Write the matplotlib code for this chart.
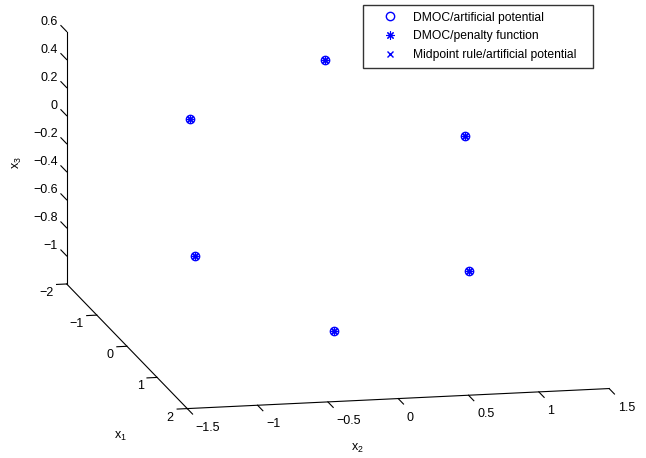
import numpy as np
import matplotlib
matplotlib.use('Agg')
import matplotlib.pyplot as plt
from matplotlib.transforms import ScaledTranslation

plt.rcParams['font.family'] = ['Liberation Sans', 'DejaVu Sans']
plt.rcParams['mathtext.fontset'] = 'custom'
plt.rcParams['mathtext.rm'] = 'Liberation Sans'
plt.rcParams['mathtext.it'] = 'Liberation Sans'

# final positions of the six agents
x1 = [-1.0, -0.5, -0.5, 0.5, 0.5, 1.0]
x2 = [0.12, -0.946, 1.014, -1.12, 0.824, -0.24]
x3 = [0.543, 0.28, 0.066, -0.464, -0.66, -0.927]

labels = ['DMOC/artificial potential', 'DMOC/penalty function',
          'Midpoint rule/artificial potential']

x1_ticks = [-2, -1, 0, 1, 2]
x2_ticks = [-1.5, -1, -0.5, 0, 0.5, 1, 1.5]
x3_ticks = [-1, -0.8, -0.6, -0.4, -0.2, 0, 0.2, 0.4, 0.6]

fmt = lambda t: ('%g' % t).replace('-', '\u2212')

fig = plt.figure(figsize=(6.46, 4.58), dpi=100)
ax = fig.add_axes([0.0135, 0.0279, 1, 1], projection='3d', proj_type='ortho')
ax.view_init(elev=12.8, azim=-12.1)
ax.set_box_aspect((4, 3, 1.8), zoom=1.62)

h1, = ax.plot(x1, x2, x3, 'o', mfc='none', mec='b', ms=6, mew=1)
h2, = ax.plot(x1, x2, x3, marker=(8, 2, 0), ls='none', color='b', ms=6, mew=0.8)
h3, = ax.plot(x1, x2, x3, 'x', color='b', ms=5, mew=1)

ax.set_xlim(-2, 2)
ax.set_ylim(-1.5, 1.5)
ax.set_zlim(-1.2, 0.6)
ax.set_xticks(x1_ticks)
ax.set_yticks(x2_ticks)
ax.set_zticks(x3_ticks)
ax.set_xticklabels([fmt(t) for t in x1_ticks])
ax.set_yticklabels([fmt(t) for t in x2_ticks])
ax.set_zticklabels([fmt(t) for t in x3_ticks])

ax.grid(False)
for axis in (ax.xaxis, ax.yaxis, ax.zaxis):
    axis.set_pane_color((1, 1, 1, 0))
    axis.pane.set_edgecolor((1, 1, 1, 0))
    axis.line.set_color('k')
    axis.line.set_linewidth(0.8)
    axis.set_tick_params(labelsize=9, colors='k', width=0.6, pad=-8)

# matlab-like tick directions
ax.xaxis._axinfo['tick']['inward_factor'] = 0.3
ax.xaxis._axinfo['tick']['outward_factor'] = 0.0
ax.yaxis._axinfo['tick']['inward_factor'] = 0.55
ax.yaxis._axinfo['tick']['outward_factor'] = 0.0
ax.zaxis._axinfo['tick']['inward_factor'] = 0.0
ax.zaxis._axinfo['tick']['outward_factor'] = 0.6
ax.zaxis.set_ticks_position('lower')
ax.zaxis._get_tickdir = lambda position: 0


def place_labels(axis, ha, dx, dy):
    # axis3d resets the label transform on every draw, so hook in after it
    off = ScaledTranslation(dx / 100, dy / 100, fig.dpi_scale_trans)
    orig = axis.get_major_ticks

    def get_major_ticks(numticks=None):
        ticks = orig(numticks)
        for t in ticks:
            t.label1.set_ha(ha)
            t.label1.set_va('center')
            t.label1.set_transform(ax.transData + off)
        return ticks
    axis.get_major_ticks = get_major_ticks


place_labels(ax.xaxis, 'right', -13.5, -9)
place_labels(ax.yaxis, 'left', 8.5, -19)
place_labels(ax.zaxis, 'right', -9, 9.5)

fig.text(0.186, 0.046, 'x$_1$', fontsize=9, ha='center', va='center')
fig.text(0.554, 0.020, 'x$_2$', fontsize=9, ha='center', va='center')
fig.text(0.027, 0.646, 'x$_3$', fontsize=9, ha='center', va='center', rotation=90)

fig.legend([h1, h2, h3], labels, loc='upper left',
           bbox_to_anchor=(363 / 646, 1 - 68 / 458, 230 / 646, 63 / 458), mode='expand',
           borderaxespad=0, fontsize=8.7, frameon=True, fancybox=False, edgecolor='k',
           handlelength=3.4, handletextpad=0.2, borderpad=0.55, labelspacing=0.55)

fig.savefig('out.png', dpi=100)
